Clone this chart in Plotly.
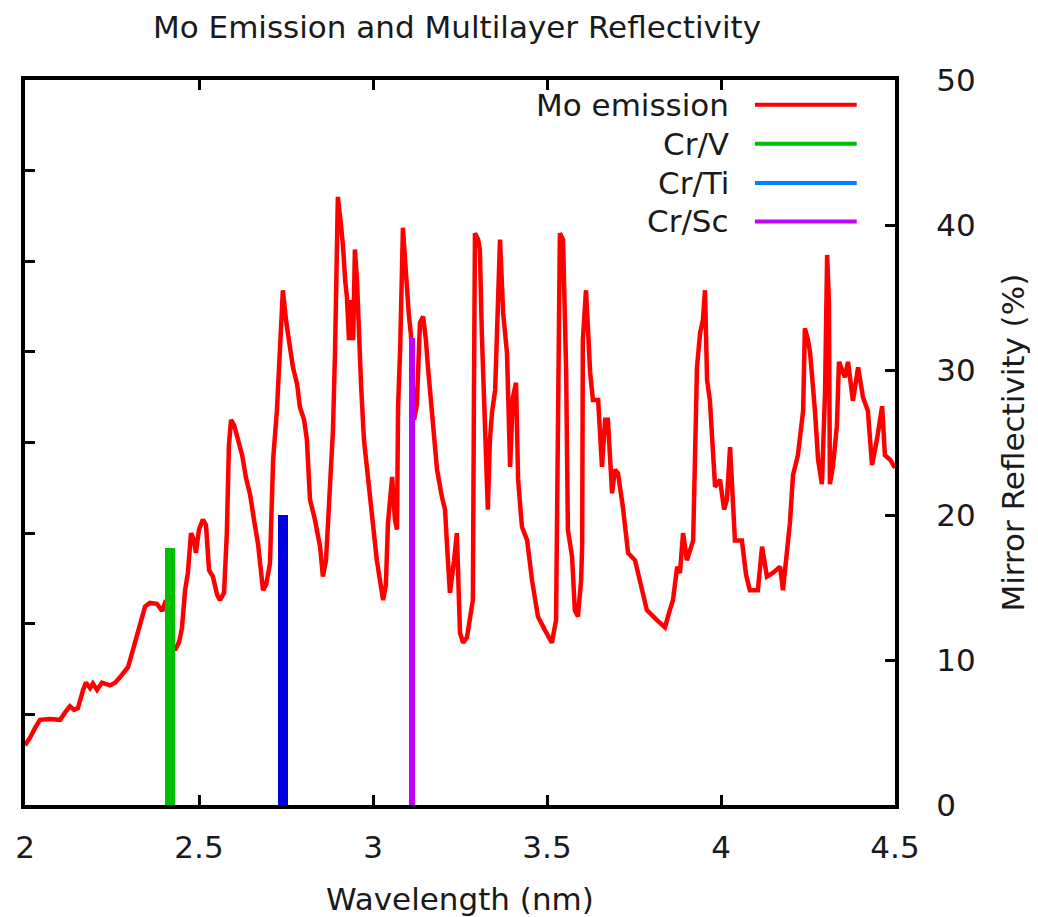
import plotly.graph_objects as go

# Mo emission spectrum (arbitrary units, left axis 0-8)
wavelength_nm = [2.000,2.014,2.029,2.043,2.072,2.101,2.115,2.129,2.141,2.152,2.167,2.175,2.187,2.195,2.207,2.221,2.244,2.259,2.273,2.287,2.296,2.310,2.322,2.333,2.345,2.359,2.379,2.394,2.405,2.417,2.431,2.443,2.451,2.460,2.468,2.477,2.486,2.491,2.500,2.511,2.520,2.529,2.540,2.552,2.560,2.572,2.580,2.586,2.592,2.601,2.612,2.624,2.635,2.647,2.658,2.670,2.684,2.693,2.704,2.713,2.724,2.733,2.741,2.750,2.761,2.770,2.782,2.790,2.802,2.810,2.819,2.833,2.848,2.856,2.865,2.871,2.876,2.885,2.891,2.897,2.899,2.908,2.914,2.920,2.925,2.931,2.937,2.943,2.948,2.954,2.960,2.966,2.974,2.986,2.997,3.011,3.020,3.029,3.037,3.043,3.055,3.063,3.069,3.072,3.078,3.083,3.086,3.092,3.098,3.103,3.109,3.118,3.126,3.135,3.144,3.152,3.158,3.170,3.184,3.198,3.207,3.213,3.221,3.233,3.241,3.250,3.259,3.270,3.279,3.287,3.290,3.293,3.302,3.307,3.313,3.322,3.330,3.336,3.342,3.351,3.356,3.362,3.365,3.374,3.379,3.385,3.394,3.399,3.402,3.411,3.417,3.428,3.443,3.457,3.474,3.494,3.514,3.526,3.532,3.537,3.546,3.555,3.560,3.572,3.580,3.589,3.598,3.601,3.603,3.612,3.618,3.624,3.632,3.647,3.658,3.667,3.675,3.687,3.695,3.704,3.718,3.733,3.753,3.767,3.787,3.816,3.839,3.853,3.862,3.874,3.882,3.891,3.902,3.920,3.925,3.931,3.940,3.948,3.954,3.960,3.968,3.983,3.997,4.009,4.017,4.026,4.034,4.040,4.060,4.072,4.083,4.106,4.118,4.132,4.149,4.170,4.178,4.190,4.198,4.207,4.221,4.236,4.241,4.250,4.256,4.270,4.279,4.290,4.299,4.305,4.310,4.313,4.322,4.333,4.339,4.356,4.365,4.379,4.394,4.408,4.422,4.434,4.448,4.463,4.471,4.486,4.500]
mo_emission = [0.66,0.74,0.85,0.94,0.95,0.94,1.02,1.09,1.05,1.07,1.27,1.35,1.29,1.34,1.27,1.35,1.32,1.35,1.41,1.49,1.52,1.71,1.88,1.99,2.19,2.23,2.22,2.14,2.26,1.82,1.71,1.80,1.95,2.37,2.56,3.00,2.92,2.78,3.04,3.15,3.09,2.59,2.52,2.32,2.26,2.34,3.00,3.97,4.25,4.19,4.03,3.86,3.61,3.42,3.15,2.87,2.37,2.43,2.67,3.81,4.36,4.99,5.68,5.35,5.06,4.83,4.64,4.39,4.25,4.03,3.37,3.15,2.85,2.52,2.70,3.15,3.59,4.14,5.02,6.16,6.71,6.40,6.16,5.79,5.61,5.13,5.57,5.13,6.13,5.79,5.08,4.61,4.03,3.59,3.22,2.70,2.48,2.26,2.43,3.11,3.62,3.15,3.04,4.39,5.02,5.83,6.37,6.02,5.61,5.41,5.19,4.25,4.42,5.32,5.39,5.13,4.83,4.33,3.70,3.40,3.26,2.85,2.34,2.70,3.00,1.90,1.79,1.85,2.04,2.26,4.47,6.31,6.24,6.13,5.17,4.25,3.26,4.03,4.33,4.58,5.21,5.91,6.24,5.43,5.24,4.99,3.73,4.25,4.50,4.66,3.59,3.07,2.92,2.48,2.08,1.93,1.79,2.04,4.47,6.31,6.24,4.80,3.04,2.74,2.15,2.08,2.48,2.85,5.13,5.68,5.24,4.77,4.47,4.47,3.73,4.25,4.25,3.44,3.70,3.66,3.29,2.78,2.70,2.45,2.15,2.04,1.96,2.15,2.26,2.63,2.56,3.00,2.70,2.92,4.03,4.83,5.21,5.35,5.68,4.69,4.47,3.51,3.59,3.26,3.37,3.95,3.37,2.92,2.92,2.54,2.37,2.37,2.85,2.52,2.56,2.63,2.37,2.84,3.11,3.64,3.86,4.35,5.26,5.13,4.99,4.35,3.81,3.54,4.56,6.07,5.57,3.54,3.75,4.18,4.89,4.72,4.89,4.46,4.83,4.50,4.35,3.75,4.03,4.40,3.86,3.81,3.72]

# Multilayer mirror reflectivity (%), right axis
mirrors = ["Cr/V", "Cr/Ti", "Cr/Sc"]
mirror_wavelength = [2.417, 2.741, 3.113]
mirror_reflectivity = [17.7, 20.0, 32.2]
mirror_bar_width = [0.029, 0.029, 0.017]
mirror_bar_colors = ["#00c000", "#0000dd", "#c000ff"]

legend_names = ["Mo emission", "Cr/V", "Cr/Ti", "Cr/Sc"]
legend_colors = ["#ff0000", "#00c000", "#0080ff", "#c000ff"]

x_ticks = [2, 2.5, 3, 3.5, 4, 4.5]
x_tick_text = ["2", "2.5", "3", "3.5", "4", "4.5"]
y2_ticks = [0, 10, 20, 30, 40, 50]

FONT = "DejaVu Sans"
FS = 31
TXT = "#1a1a1a"
W, H = 1030, 909  # page body adds an 8px margin

fig = go.Figure()
fig.add_trace(go.Scatter(
    x=wavelength_nm, y=mo_emission, mode="lines", name="Mo emission",
    line=dict(color="#ff0000", width=4.5), showlegend=False, yaxis="y"))

for name, wl, refl, w, c in zip(mirrors, mirror_wavelength, mirror_reflectivity,
                                 mirror_bar_width, mirror_bar_colors):
    fig.add_trace(go.Bar(x=[wl], y=[refl], width=[w], name=name,
                         marker=dict(color=c, line=dict(width=0)),
                         showlegend=False, yaxis="y2"))

# Custom legend (text left of the sample line, like the original)
row_y = [0.966, 0.912, 0.858, 0.805]
for name, col, ry in zip(legend_names, legend_colors, row_y):
    fig.add_annotation(xref="paper", yref="paper", x=0.812, y=ry, text=name,
                       showarrow=False, xanchor="right", yanchor="middle",
                       font=dict(family=FONT, size=FS, color=TXT))
    fig.add_shape(type="line", xref="paper", yref="paper", x0=0.839, x1=0.956,
                  y0=ry, y1=ry, line=dict(color=col, width=4))

# Right axis title
fig.add_annotation(xref="paper", yref="paper", x=1.1345, y=0.5,
                   text="Mirror Reflectivity (%)", textangle=-90, showarrow=False,
                   xanchor="center", yanchor="middle",
                   font=dict(family=FONT, size=FS, color=TXT))

fig.update_layout(
    width=W, height=H,
    margin=dict(l=17, r=143, t=72, b=112),
    paper_bgcolor="white", plot_bgcolor="white",
    font=dict(family=FONT, size=FS, color=TXT),
    title=dict(text="Mo Emission and Multilayer Reflectivity", x=449 / W, xanchor="center",
               y=1 - 19 / H, yanchor="middle", font=dict(family=FONT, size=FS, color=TXT)),
    bargap=0,
    xaxis=dict(range=[2, 4.5], tickvals=x_ticks, ticktext=x_tick_text, automargin=False,
               ticks="inside", ticklen=10, tickwidth=3, tickcolor="black",
               showline=True, linewidth=4, linecolor="black", mirror="ticks",
               showgrid=False, zeroline=False, ticklabelstandoff=12,
               title=dict(text="Wavelength (nm)", standoff=27,
                          font=dict(family=FONT, size=FS, color=TXT))),
    yaxis=dict(range=[0, 8], tickvals=[1, 2, 3, 4, 5, 6, 7], showticklabels=False,
               automargin=False,
               ticks="inside", ticklen=10, tickwidth=3, tickcolor="black",
               showline=True, linewidth=4, linecolor="black", mirror=True,
               showgrid=False, zeroline=False),
    yaxis2=dict(range=[0, 50], tickvals=y2_ticks, overlaying="y", side="right",
                automargin=False,
                ticks="inside", ticklen=10, tickwidth=3, tickcolor="black",
                showline=True, linewidth=4, linecolor="black",
                showgrid=False, zeroline=False, ticklabelstandoff=31),
)

fig.write_html("out.html")
